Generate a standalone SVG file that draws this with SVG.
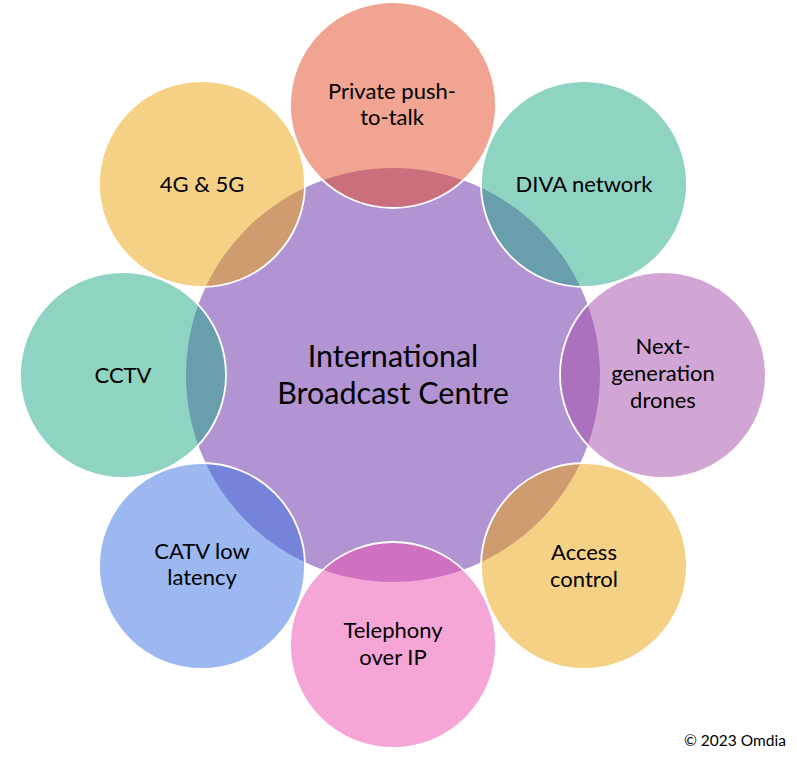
<svg xmlns="http://www.w3.org/2000/svg" width="797" height="761" viewBox="0 0 797 761">
<style>
  .outer { fill-opacity: 0.5; stroke: #FFFFFF; stroke-width: 1.8; }
  .lbl { font-family: Lato, "Liberation Sans", sans-serif; font-size: 22px; fill: #000000; text-anchor: middle; }
  .big { font-family: Lato, "Liberation Sans", sans-serif; font-size: 30.5px; fill: #000000; text-anchor: middle; }
  .copy { font-family: Lato, "Liberation Sans", sans-serif; font-size: 15.5px; fill: #000000; }
</style>
<rect width="797" height="761" fill="#FFFFFF"/>
<g id="connectors"></g>
<g id="node-ibc">
  <circle cx="393" cy="375" r="207" fill="#B394D3"/>
  <text class="big" x="393" y="367">International</text>
  <text class="big" x="393" y="404">Broadcast Centre</text>
</g>
<g id="node-ptt">
  <circle class="outer" cx="393" cy="105" r="103" fill="#E14923"/>
  <text class="lbl" x="392" y="99">Private push-</text>
  <text class="lbl" x="392" y="125">to-talk</text>
</g>
<g id="node-diva">
  <circle class="outer" cx="584" cy="184" r="103" fill="#1FA785"/>
  <text class="lbl" x="584" y="192">DIVA network</text>
</g>
<g id="node-drones">
  <circle class="outer" cx="663" cy="375" r="103" fill="#A54DA9"/>
  <text class="lbl" x="663" y="354">Next-</text>
  <text class="lbl" x="663" y="381">generation</text>
  <text class="lbl" x="663" y="408">drones</text>
</g>
<g id="node-access">
  <circle class="outer" cx="584" cy="566" r="103" fill="#EBA30D"/>
  <text class="lbl" x="584" y="560">Access</text>
  <text class="lbl" x="584" y="587">control</text>
</g>
<g id="node-telephony">
  <circle class="outer" cx="393" cy="645" r="103" fill="#EB4DAD"/>
  <text class="lbl" x="393" y="638">Telephony</text>
  <text class="lbl" x="393" y="665">over IP</text>
</g>
<g id="node-catv">
  <circle class="outer" cx="202" cy="566" r="103" fill="#3773E1"/>
  <text class="lbl" x="202" y="559">CATV low</text>
  <text class="lbl" x="202" y="585">latency</text>
</g>
<g id="node-cctv">
  <circle class="outer" cx="123" cy="375" r="103" fill="#1FA785"/>
  <text class="lbl" x="123" y="383">CCTV</text>
</g>
<g id="node-4g5g">
  <circle class="outer" cx="202" cy="184" r="103" fill="#EBA30D"/>
  <text class="lbl" x="202" y="192">4G &amp; 5G</text>
</g>
<text class="copy" x="684" y="746">© 2023 Omdia</text>
</svg>
